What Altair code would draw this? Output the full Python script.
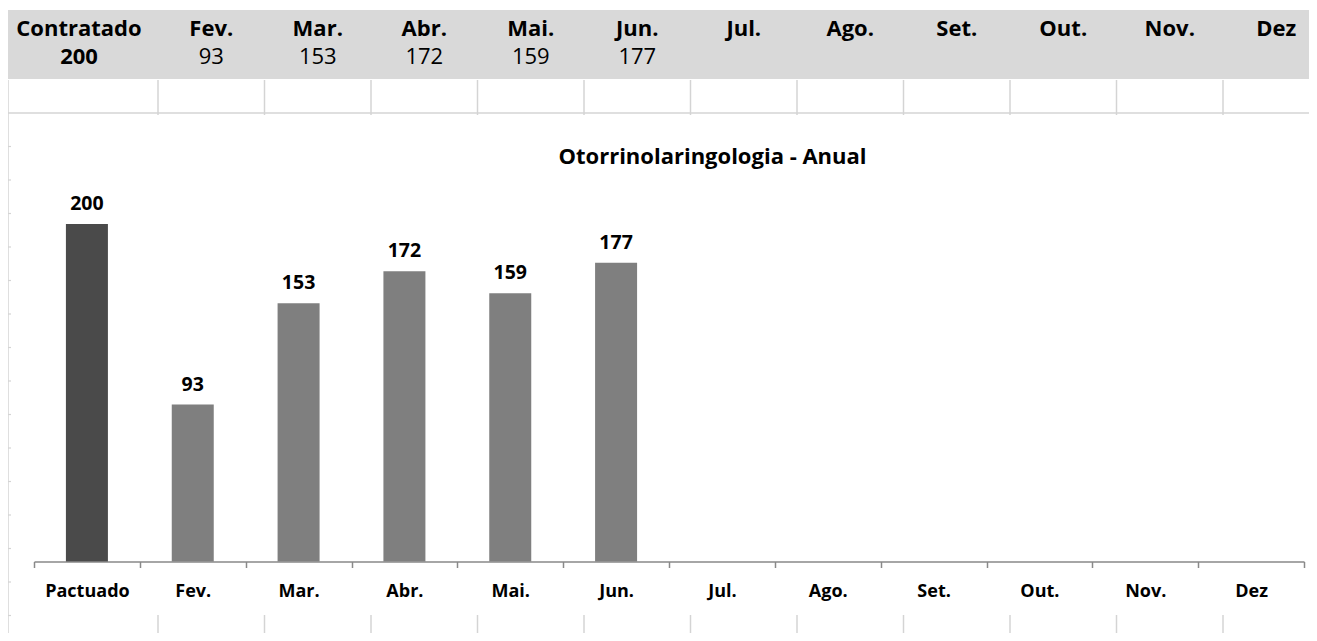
import altair as alt
import pandas as pd

# ---- data ----
table_cols = ["Fev.", "Mar.", "Abr.", "Mai.", "Jun.", "Jul.", "Ago.", "Set.", "Out.", "Nov.", "Dez"]
table_vals = [93, 153, 172, 159, 177, None, None, None, None, None, None]
contr_label = ["Contratado"]
contr_value = [200]

chart_cats = ["Pactuado", "Fev.", "Mar.", "Abr.", "Mai.", "Jun.", "Jul.", "Ago.", "Set.", "Out.", "Nov.", "Dez"]
chart_vals = [200, 93, 153, 172, 159, 177, None, None, None, None, None, None]
chart_kind = ["Pactuado"] + ["Realizado"] * 11
title_text = "Otorrinolaringologia - Anual"
sheet_rows = list(range(1, 16))

FONT = "Open Sans"
GRID = "#d4d4d4"
W, H = 1301, 625

one = pd.DataFrame({"k": [0]})
tbl = pd.DataFrame({"col": table_cols, "val": table_vals})
tbl_vals = tbl.dropna()
ctr = pd.DataFrame({"col": contr_label, "val": contr_value})
bars = pd.DataFrame({"cat": chart_cats, "val": chart_vals, "kind": chart_kind})
rows = pd.DataFrame({"r": sheet_rows})

month_scale = alt.Scale(domain=table_cols, range=[150, 1321.5], paddingInner=0, paddingOuter=0)
ctr_scale = alt.Scale(domain=contr_label, range=[-8, 150], paddingInner=0, paddingOuter=0)
cat_scale = alt.Scale(domain=chart_cats, range=[26, 1296], paddingInner=0, paddingOuter=0)
val_scale = alt.Scale(domain=[0, 200], range=[553.5, 216], nice=False, zero=True)
row_scale = alt.Scale(domain=[0, 15], range=[105, 607.5])

# spreadsheet header band
band = alt.Chart(one).mark_rect(color="#d9d9d9").encode(
    x=alt.value(0), x2=alt.value(W), y=alt.value(2), y2=alt.value(71)
)
# grid lines of the sheet
hline = alt.Chart(one).mark_rule(color=GRID, strokeWidth=1.5).encode(
    x=alt.value(0), x2=alt.value(W), y=alt.value(105)
)
vleft = alt.Chart(one).mark_rule(color=GRID, strokeWidth=1.5).encode(
    x=alt.value(0), y=alt.value(72), y2=alt.value(H)
)
stubs = alt.Chart(rows).mark_rule(color=GRID, strokeWidth=1.2).encode(
    x=alt.value(0), x2=alt.value(3),
    y=alt.Y("r:Q", scale=row_scale, axis=None),
)
vtop = alt.Chart(tbl).mark_rule(color=GRID, strokeWidth=1.5).encode(
    x=alt.X("col:N", scale=month_scale, bandPosition=0, axis=None),
    y=alt.value(72), y2=alt.value(107),
)
vbot = alt.Chart(tbl).mark_rule(color=GRID, strokeWidth=1.5).encode(
    x=alt.X("col:N", scale=month_scale, bandPosition=0, axis=None),
    y=alt.value(607), y2=alt.value(H),
)

# table texts
hdr = alt.Chart(tbl).mark_text(font=FONT, fontSize=22, fontWeight="bold", color="black",
                               baseline="alphabetic").encode(
    x=alt.X("col:N", scale=month_scale, axis=None), y=alt.value(28), text="col:N"
)
hdr_c = alt.Chart(ctr).mark_text(font=FONT, fontSize=22, fontWeight="bold", color="black",
                                 baseline="alphabetic").encode(
    x=alt.X("col:N", scale=ctr_scale, axis=None), y=alt.value(28), text="col:N"
)
vals = alt.Chart(tbl_vals).mark_text(font=FONT, fontSize=22, color="black",
                                     baseline="alphabetic").encode(
    x=alt.X("col:N", scale=month_scale, axis=None), y=alt.value(55.5),
    text=alt.Text("val:Q", format="d"),
)
vals_c = alt.Chart(ctr).mark_text(font=FONT, fontSize=22, fontWeight="bold", color="black",
                                  baseline="alphabetic").encode(
    x=alt.X("col:N", scale=ctr_scale, axis=None), y=alt.value(55.5),
    text=alt.Text("val:Q", format="d"),
)

# chart title
title = alt.Chart(one).mark_text(font=FONT, fontSize=22, fontWeight="bold", color="black",
                                 baseline="alphabetic", align="center").encode(
    x=alt.value(704.5), y=alt.value(156), text=alt.value(title_text)
)

# bars
bar = alt.Chart(bars).mark_bar(width=42).encode(
    x=alt.X("cat:N", scale=cat_scale, sort=chart_cats,
            axis=alt.Axis(title=None, orient="bottom", offset=-71.5, labelAngle=0,
                          domainColor="#898989", domainWidth=1.5, tickColor="#898989",
                          tickWidth=1.5, tickSize=6, tickBand="extent", grid=False,
                          labelFont=FONT, labelFontSize=18, labelFontWeight="bold",
                          labelColor="black", labelPadding=15)),
    y=alt.Y("val:Q", scale=val_scale, axis=None),
    color=alt.Color("kind:N", scale=alt.Scale(domain=["Pactuado", "Realizado"],
                                              range=["#4a4a4a", "#7f7f7f"]), legend=None),
)
lbl = alt.Chart(bars).mark_text(font=FONT, fontSize=19.5, fontWeight="bold", color="black",
                                baseline="alphabetic", dy=-14).encode(
    x=alt.X("cat:N", scale=cat_scale, sort=chart_cats, axis=None),
    y=alt.Y("val:Q", scale=val_scale, axis=None),
    text=alt.Text("val:Q", format="d"),
)

chart = alt.layer(
    band, hline, vleft, stubs, vtop, vbot, hdr, hdr_c, vals, vals_c, title, bar, lbl
).resolve_scale(x="independent", y="independent", color="independent").properties(
    width=W, height=H, autosize=alt.AutoSizeParams(type="none"), padding=0,
    background="white",
).configure_view(stroke=None)

chart.save("out.html", embed_options={"renderer": "svg", "actions": False})
